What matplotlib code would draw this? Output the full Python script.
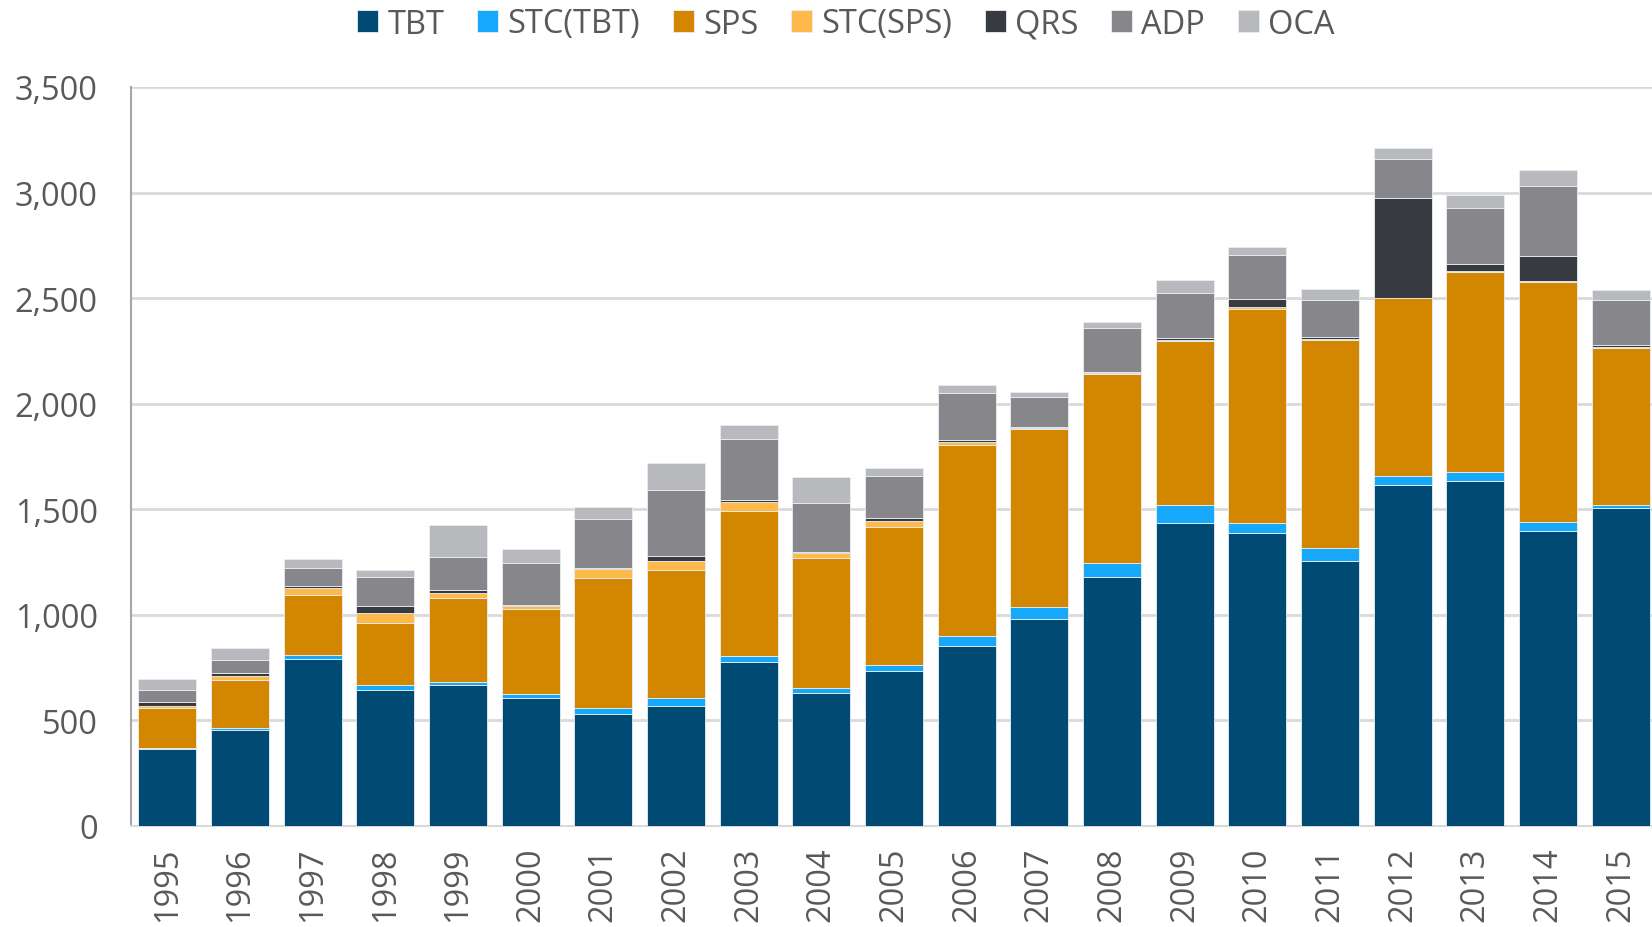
"""Stacked bar chart of trade measures by type, 1995-2015."""

import matplotlib.pyplot as plt
import numpy as np
from matplotlib.ticker import FuncFormatter

YEARS = [str(y) for y in range(1995, 2016)]

TBT = [362, 455, 790, 645, 667, 604, 528, 569, 777, 631, 735,
       853, 981, 1180, 1436, 1388, 1255, 1612, 1634, 1396, 1507]
STC_TBT = [6, 6, 17, 23, 13, 20, 28, 35, 27, 22, 27,
           46, 57, 64, 82, 47, 60, 43, 40, 45, 13]
SPS = [188, 231, 285, 294, 399, 405, 619, 607, 689, 615, 655,
       907, 841, 898, 777, 1015, 988, 845, 949, 1136, 744]
STC_SPS = [10, 18, 35, 48, 24, 14, 42, 41, 40, 23, 29,
           13, 3, 2, 8, 8, 2, 2, 4, 3, 2]
QRS = [20, 15, 8, 33, 16, 5, 3, 28, 9, 6, 12,
       8, 9, 8, 9, 38, 9, 470, 32, 117, 10]
ADP = [59, 60, 85, 137, 156, 198, 231, 310, 292, 230, 201,
       221, 142, 204, 213, 207, 175, 189, 270, 333, 213]
OCA = [50, 57, 45, 32, 151, 66, 59, 130, 66, 126, 35,
       41, 23, 31, 59, 41, 56, 49, 57, 77, 50]

SERIES = [
    ("TBT", TBT, "#004a73"),
    ("STC(TBT)", STC_TBT, "#16a8fb"),
    ("SPS", SPS, "#d38600"),
    ("STC(SPS)", STC_SPS, "#ffb84a"),
    ("QRS", QRS, "#373b3f"),
    ("ADP", ADP, "#87868b"),
    ("OCA", OCA, "#b8b9bc"),
]

TEXT_COLOR = "#595959"


def plot_measures() -> None:
    """Draw the stacked bars and save the figure."""
    plt.rcParams["font.family"] = ["Open Sans", "DejaVu Sans"]

    fig = plt.figure(figsize=(16.52, 9.28), dpi=100)
    ax = fig.add_axes([131 / 1652, 1 - 826.7 / 928,
                       (1657 - 131) / 1652, (826.7 - 88) / 928])

    x = np.arange(len(YEARS))
    bottom = np.zeros(len(YEARS))
    for label, values, color in SERIES:
        ax.bar(x, values, width=0.8, bottom=bottom, color=color,
               edgecolor="#e8eef2", linewidth=0.6, label=label, zorder=3)
        bottom += np.array(values)

    ax.set_xlim(-0.5, len(YEARS) - 0.5)
    ax.set_ylim(0, 3500)
    ax.set_yticks(np.arange(0, 3501, 500))
    ax.yaxis.set_major_formatter(FuncFormatter(lambda v, _: f"{v:,.0f}"))
    ax.set_xticks(x)
    ax.set_xticklabels(YEARS, rotation=90)

    ax.grid(axis="y", color="#d9d9d9", linewidth=2, zorder=0)
    ax.tick_params(axis="y", length=0, pad=24, labelsize=23.5,
                   labelcolor=TEXT_COLOR)
    ax.tick_params(axis="x", length=0, pad=15, labelsize=23.5,
                   labelcolor=TEXT_COLOR)

    for side in ["top", "right"]:
        ax.spines[side].set_visible(False)
    ax.spines["left"].set_color("#a6a6a6")
    ax.spines["left"].set_linewidth(1.5)
    ax.spines["bottom"].set_color("#d9d9d9")
    ax.spines["bottom"].set_linewidth(1.5)

    fig.legend(loc="center", bbox_to_anchor=(0.512, 1 - 25 / 928),
               ncol=len(SERIES), frameon=False, fontsize=23.5,
               labelcolor=TEXT_COLOR, handlelength=0.65,
               handleheight=0.65, handletextpad=0.28, columnspacing=1.0,
               borderpad=0.1)

    fig.savefig("out.png", dpi=100)
    plt.close(fig)


if __name__ == "__main__":
    plot_measures()
